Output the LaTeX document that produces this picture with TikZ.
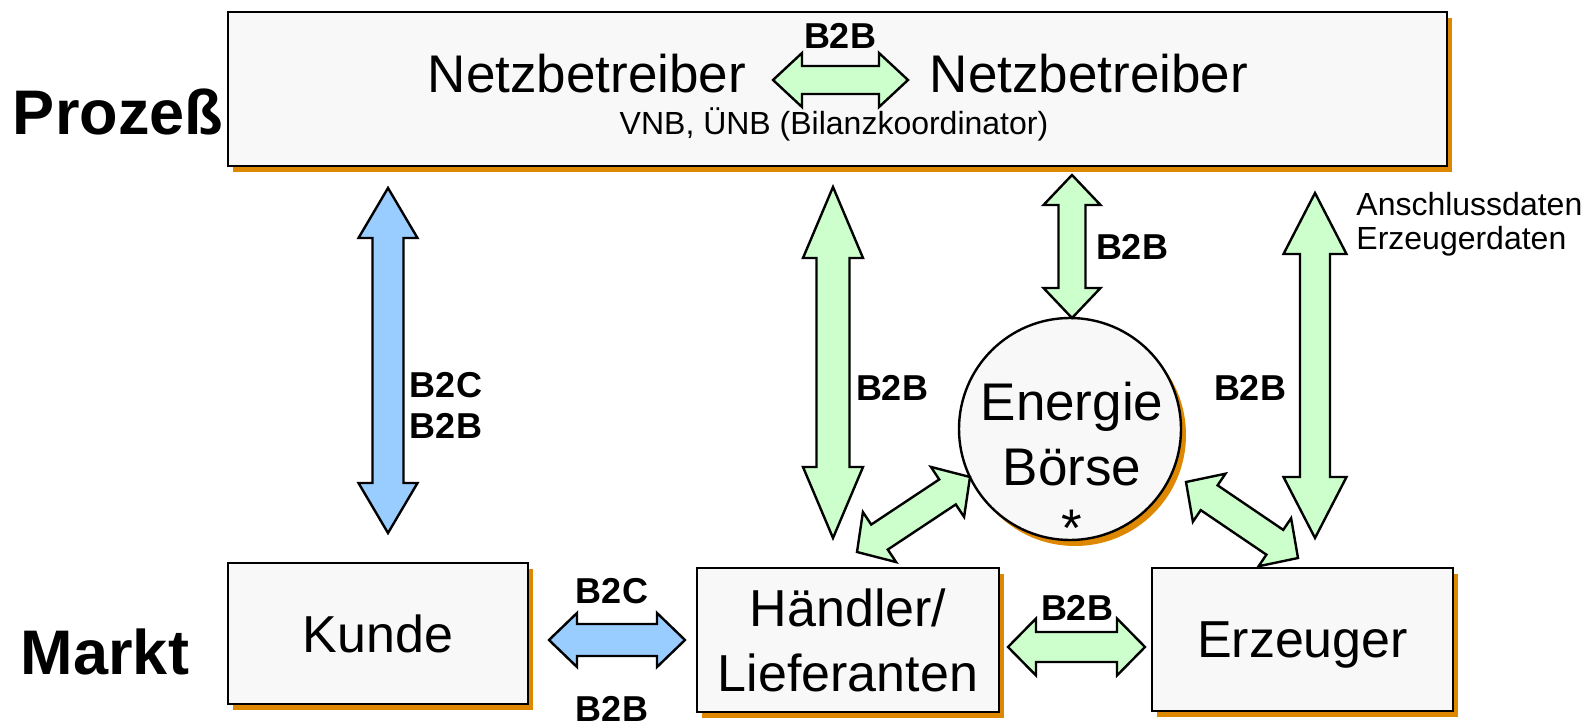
\documentclass[tikz,border=0pt]{standalone}
\usepackage{fontspec}
\setmainfont{Liberation Sans}
\usetikzlibrary{calc,shadows}
\definecolor{emfill}{HTML}{F8F8F8}
\definecolor{emshadow}{HTML}{DD8800}
\definecolor{emgreen}{HTML}{CCFFCC}
\definecolor{emblue}{HTML}{99CCFF}
\tikzset{
emshade/.style={drop shadow={shadow xshift=2.5pt,shadow yshift=-3pt,fill=emshadow,opacity=1}},
embox/.style={rectangle,draw,line width=1.2pt,fill=emfill,emshade,align=center,inner sep=0pt,text depth=0pt,font=\fontsize{26}{32.5}\selectfont},
emhub/.style={circle,draw,line width=1.2pt,fill=emfill,emshade,minimum size=111pt,inner sep=0pt},
emname/.style={font=\fontsize{26.5}{31}\selectfont,anchor=base,inner sep=0pt},
emside/.style={font=\fontsize{31.5}{36}\selectfont\bfseries,anchor=base,inner sep=0pt},
emtag/.style={font=\fontsize{18}{21}\selectfont\bfseries,anchor=base,inner sep=0pt},
emnote/.style={font=\fontsize{16}{19}\selectfont,anchor=base,inner sep=0pt},
emfat/.style n args={3}{line width=1.2pt,line join=miter,to path={
  -- ($(\tikztostart)!#1!(\tikztotarget)!#3!90:(\tikztotarget)$)
  -- ($(\tikztostart)!#1!(\tikztotarget)!#2!90:(\tikztotarget)$)
  -- ($(\tikztotarget)!#1!(\tikztostart)!#2!-90:(\tikztostart)$)
  -- ($(\tikztotarget)!#1!(\tikztostart)!#3!-90:(\tikztostart)$)
  -- (\tikztotarget)
  -- ($(\tikztotarget)!#1!(\tikztostart)!#3!90:(\tikztostart)$)
  -- ($(\tikztotarget)!#1!(\tikztostart)!#2!90:(\tikztostart)$)
  -- ($(\tikztostart)!#1!(\tikztotarget)!#2!-90:(\tikztotarget)$)
  -- ($(\tikztostart)!#1!(\tikztotarget)!#3!-90:(\tikztotarget)$)
  -- cycle}},
emb2b/.style={fill=emgreen},
emb2c/.style={fill=emblue}
}

\begin{document}
\begin{tikzpicture}[x=0.5pt,y=-0.5pt]
\useasboundingbox (0,0) rectangle (1590,727);
% boxes
\node[embox,minimum width=609.5pt,minimum height=77pt] (netz) at (837.5,89) {};
\node[embox,minimum width=150pt,minimum height=70.5pt] (kunde) at (378,633.5) {Kunde};
\node[embox,minimum width=151pt,minimum height=72pt] (haendler) at (848,640) {Händler/\\Lieferanten};
\node[embox,minimum width=150.5pt,minimum height=71.5pt] (erzeuger) at (1302.5,639.5) {Erzeuger};
\node[emhub] (boerse) at (1070,429) {};
% texts
\node[emside] (prozess) at (118,135) {Prozeß};
\node[emside] (markt) at (105,674) {Markt};
\node[emname] (netzl) at (587,93) {Netzbetreiber};
\node[emname] (netzr) at (1089,93) {Netzbetreiber};
\node[emnote] (vnb) at (834,135) {VNB, ÜNB (Bilanzkoordinator)};
\node[emname] (energie) at (1072,420) {Energie};
\node[emname] (boersetxt) at (1072,485) {Börse};
\node[emname] (stern) at (1072,546) {*};
\node[emnote,anchor=base west] (daten1) at (1356,216) {Anschlussdaten};
\node[emnote,anchor=base west] (daten2) at (1356,250) {Erzeugerdaten};
% arrow ends
\coordinate (nl) at (773,80);
\coordinate (nr) at (908,80);
\coordinate (kn) at (388,188);
\coordinate (ks) at (388,533);
\coordinate (kr) at (549,640);
\coordinate (hl) at (685,640);
\coordinate (hn) at (833,187);
\coordinate (hs) at (833,538);
\coordinate (bn) at (1072,175);
\coordinate (bs) at (1072,318);
\coordinate (en) at (1315,193);
\coordinate (es) at (1315,538);
\coordinate (hr) at (1008,647);
\coordinate (el) at (1145,647);
\coordinate (hd) at (857,552);
\coordinate (bl) at (970,477);
\coordinate (br) at (1186,482);
\coordinate (ed) at (1298,558);
% arrows
\draw[emfat={14.5pt}{7pt}{13.5pt},emb2b] (nl) to (nr);
\draw[emfat={25pt}{7.75pt}{14.75pt},emb2c] (kn) to (ks);
\draw[emfat={14pt}{8pt}{13.5pt},emb2c] (kr) to (hl);
\draw[emfat={35.5pt}{8.25pt}{15pt},emb2b] (hn) to (hs);
\draw[emfat={15pt}{6.75pt}{14.25pt},emb2b] (bn) to (bs);
\draw[emfat={30.5pt}{7.5pt}{15.75pt},emb2b] (en) to (es);
\draw[emfat={14pt}{7.5pt}{14.25pt},emb2b] (hr) to (el);
\draw[emfat={13.5pt}{7.5pt}{15pt},emb2b] (hd) to (bl);
\draw[emfat={14pt}{7.5pt}{14.5pt},emb2b] (br) to (ed);
% labels
\node[emtag] (t1) at (840,49) {B2B};
\node[emtag] (t2) at (446,397) {B2C};
\node[emtag] (t3) at (446,438) {B2B};
\node[emtag] (t4) at (892,400) {B2B};
\node[emtag] (t5) at (1132,260) {B2B};
\node[emtag] (t6) at (1250,400) {B2B};
\node[emtag] (t7) at (612,603) {B2C};
\node[emtag] (t8) at (612,721) {B2B};
\node[emtag] (t9) at (1077,620) {B2B};
\end{tikzpicture}
\end{document}
